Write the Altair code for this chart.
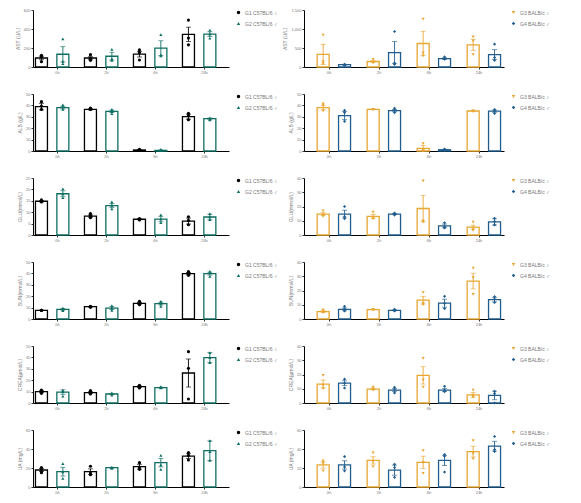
import altair as alt
import pandas as pd

TIMES = ["0h", "2h", "6h", "24h"]
LEFT_GROUPS = ["G1 C57BL/6 ♀", "G2 C57BL/6 ♂"]
RIGHT_GROUPS = ["G3 BALB/c ♀", "G4 BALB/c ♂"]
LEFT_COLORS = ["#000000", "#0f6e62"]
RIGHT_COLORS = ["#e8a633", "#215d8d"]
LEFT_SHAPES = ["circle", "triangle-up"]
RIGHT_SHAPES = ["triangle-down", "diamond"]

TITLES = ["AST (U/L)", "ALB (g/L)", "GLU(mmol/L)", "BUN(mmol/L)", "CREA(μmol/L)", "UA (mg/L)"]
LEFT_TICKS = [[0, 200, 400, 600], [0, 10, 20, 30, 40, 50], [0, 5, 10, 15, 20, 25],
              [0, 10, 20, 30, 40, 50], [0, 10, 20, 30, 40, 50], [0, 20, 40, 60]]
RIGHT_TICKS = [[0, 500, 1000, 1500], [0, 10, 20, 30, 40, 50], [0, 10, 20, 30, 40],
               [0, 10, 20, 30, 40], [0, 10, 20, 30, 40], [0, 20, 40, 60]]

# ---- AST ----
AST_L_MEAN = [[95, 95, 135, 344], [134, 113, 198, 346]]
AST_L_SEM = [[18, 14, 30, 75], [80, 42, 78, 25]]
AST_L_PTS = [[[123, 106, 56], [130, 90, 70], [180, 152, 74], [494, 304, 233]],
             [[296, 60, 35], [185, 85, 70], [342, 127, 116], [388, 346, 304]]]
AST_R_MEAN = [[330, 145, 618, 580], [62, 379, 221, 326]]
AST_R_SEM = [[265, 20, 320, 150], [8, 290, 20, 130]]
AST_R_PTS = [[[838, 141, 90], [200, 130, 110], [1262, 370, 291], [794, 688, 326]],
             [[70, 53, 44], [935, 106, 70], [265, 221, 203], [600, 247, 176]]]
# ---- ALB ----
ALB_L_MEAN = [[38.9, 36.5, 0.9, 30.1], [38.0, 34.8, 0.6, 28.4]]
ALB_L_SEM = [[2.9, 0.5, 0.3, 2.2], [1.2, 1.1, 0.3, 0.5]]
ALB_L_PTS = [[[43.3, 39.5, 36.5], [37.7, 37.1, 36.5], [1.5, 0.9, 0.6], [33.0, 31.0, 27.5]],
             [[40.4, 38.6, 36.5], [36.5, 34.5, 32.7], [1.5, 0.6, 0.3], [29.0, 27.8, 27.2]]]
ALB_R_MEAN = [[38.0, 36.6, 2.3, 35.1], [31.1, 35.4, 1.1, 34.9]]
ALB_R_SEM = [[1.9, 0.2, 2.5, 0.2], [3.6, 1.0, 0.3, 1.0]]
ALB_R_PTS = [[[41.4, 40.3, 35.1], [36.6, 36.6, 36.3], [6.5, 0.3, 0.1], [35.1, 34.9, 34.6]],
             [[35.7, 33.7, 26.0], [37.4, 35.7, 33.7], [1.7, 1.1, 0.6], [36.3, 35.1, 32.9]]]
# ---- GLU ----
GLU_L_MEAN = [[14.8, 8.3, 6.9, 6.1], [18.1, 12.9, 7.0, 7.9]]
GLU_L_SEM = [[0.3, 0.5, 0.2, 1.3], [1.3, 0.9, 1.2, 1.2]]
GLU_L_PTS = [[[15.4, 14.8, 14.5], [9.4, 8.5, 7.6], [7.2, 6.9, 6.6], [8.0, 6.4, 4.5]],
             [[20.2, 18.0, 16.4], [14.5, 13.0, 11.5], [8.8, 7.0, 5.4], [9.4, 7.9, 6.7]]]
GLU_R_MEAN = [[14.7, 13.1, 18.6, 5.5], [14.7, 14.7, 6.4, 9.2]]
GLU_R_SEM = [[1.0, 1.4, 9.2, 1.4], [2.7, 0.4, 1.3, 2.2]]
GLU_R_PTS = [[[17.0, 14.0, 13.0], [16.0, 12.0, 11.3], [37.9, 9.9, 9.0], [9.0, 4.6, 3.2]],
             [[20.0, 12.9, 11.5], [15.4, 14.7, 14.0], [8.6, 5.7, 5.0], [11.7, 9.4, 7.1]]]
# ---- BUN ----
BUN_L_MEAN = [[7.6, 10.8, 13.7, 39.8], [8.5, 9.6, 13.5, 39.8]]
BUN_L_SEM = [[0.2, 0.3, 0.8, 1.0], [0.6, 1.2, 1.3, 1.3]]
BUN_L_PTS = [[[7.5, 7.6, 7.7], [11.1, 10.8, 10.2], [15.5, 13.7, 12.6], [41.5, 39.8, 38.3]],
             [[9.6, 8.5, 7.3], [11.7, 9.6, 7.6], [15.5, 13.7, 11.1], [41.8, 40.4, 37.4]]]
BUN_R_MEAN = [[5.2, 6.6, 13.2, 26.6], [6.8, 6.1, 11.1, 13.6]]
BUN_R_SEM = [[0.6, 0.1, 2.7, 5.5], [1.0, 0.3, 2.8, 1.6]]
BUN_R_PTS = [[[6.4, 5.2, 4.5], [6.5, 6.6, 6.7], [18.6, 11.0, 10.0], [35.7, 29.1, 17.3]],
             [[8.9, 7.0, 5.7], [6.8, 6.1, 5.7], [15.9, 10.9, 7.3], [15.7, 13.9, 11.6]]]
# ---- CREA ----
CREA_L_MEAN = [[10.0, 9.1, 14.3, 26.3], [9.6, 7.9, 13.5, 39.8]]
CREA_L_SEM = [[0.9, 0.9, 0.7, 12.3], [2.0, 0.5, 0.3, 4.4]]
CREA_L_PTS = [[[11.4, 9.9, 8.5], [10.8, 9.1, 7.9], [15.5, 14.3, 13.2], [45.0, 30.4, 3.5]],
              [[11.1, 9.9, 6.1], [8.8, 7.9, 7.0], [14.3, 13.5, 13.2], [44.2, 39.8, 35.4]]]
CREA_R_MEAN = [[13.3, 9.8, 19.4, 5.7], [13.9, 9.1, 9.1, 5.3]]
CREA_R_SEM = [[2.8, 0.6, 6.1, 1.7], [1.7, 1.1, 1.1, 3.0]]
CREA_R_PTS = [[[19.4, 12.3, 10.1], [11.2, 9.8, 9.1], [31.3, 16.2, 11.2], [9.1, 5.0, 4.1]],
              [[16.7, 13.9, 10.5], [11.0, 9.1, 7.1], [11.7, 8.9, 8.0], [8.2, 6.6, 0.0]]]
# ---- UA ----
UA_L_MEAN = [[17.9, 16.1, 21.4, 32.6], [16.1, 20.4, 25.6, 38.2]]
UA_L_SEM = [[1.6, 3.0, 2.5, 2.5], [4.6, 0.3, 4.4, 10.3]]
UA_L_PTS = [[[20.4, 17.5, 15.1], [21.8, 14.7, 13.0], [25.6, 21.0, 18.6], [36.1, 33.3, 28.4]],
            [[24.6, 15.8, 9.1], [20.7, 20.4, 19.6], [33.3, 23.2, 18.6], [48.8, 37.2, 28.1]]]
UA_R_MEAN = [[23.2, 28.0, 25.9, 37.2], [23.2, 17.7, 28.0, 43.0]]
UA_R_SEM = [[3.4, 3.8, 6.5, 5.7], [4.4, 5.3, 5.3, 5.1]]
UA_R_PTS = [[[27.6, 24.9, 17.0], [35.8, 26.6, 21.5], [38.2, 25.9, 14.3], [48.8, 35.1, 29.7]],
            [[32.0, 21.1, 17.0], [23.9, 20.5, 10.2], [34.1, 32.4, 15.7], [53.2, 39.5, 37.5]]]

PANELS = [
    (AST_L_MEAN, AST_L_SEM, AST_L_PTS, AST_R_MEAN, AST_R_SEM, AST_R_PTS),
    (ALB_L_MEAN, ALB_L_SEM, ALB_L_PTS, ALB_R_MEAN, ALB_R_SEM, ALB_R_PTS),
    (GLU_L_MEAN, GLU_L_SEM, GLU_L_PTS, GLU_R_MEAN, GLU_R_SEM, GLU_R_PTS),
    (BUN_L_MEAN, BUN_L_SEM, BUN_L_PTS, BUN_R_MEAN, BUN_R_SEM, BUN_R_PTS),
    (CREA_L_MEAN, CREA_L_SEM, CREA_L_PTS, CREA_R_MEAN, CREA_R_SEM, CREA_R_PTS),
    (UA_L_MEAN, UA_L_SEM, UA_L_PTS, UA_R_MEAN, UA_R_SEM, UA_R_PTS),
]


def panel(title, groups, colors, shapes, means, sems, pts, ticks, width):
    bar_rows, pt_rows = [], []
    for gi, g in enumerate(groups):
        for ti, t in enumerate(TIMES):
            m, s = means[gi][ti], sems[gi][ti]
            bar_rows.append(dict(time=t, group=g, mean=m, lo=max(m - s, 0), hi=m + s))
            for v in pts[gi][ti]:
                pt_rows.append(dict(time=t, group=g, value=v))
    bdf = pd.DataFrame(bar_rows)
    pdf = pd.DataFrame(pt_rows)

    X = alt.X("time:N", sort=TIMES, scale=alt.Scale(paddingInner=0, paddingOuter=0),
              axis=alt.Axis(title=None, labelAngle=0))
    XO = alt.XOffset("group:N", sort=groups, scale=alt.Scale(paddingInner=0, paddingOuter=0.29))
    ys = alt.Scale(domain=[0, ticks[-1]], nice=False, zero=True)
    yax = alt.Axis(title=title, values=ticks)
    cscale = alt.Scale(domain=groups, range=colors)
    leg = alt.Legend(title=None, orient="right", offset=7, padding=0, labelFontSize=5,
                     labelColor="#777777", symbolSize=12, rowPadding=5, symbolStrokeWidth=0,
                     labelLimit=100)

    bars = alt.Chart(bdf).mark_bar(fill="white", strokeWidth=1.3, size=12).encode(
        x=X, xOffset=XO, y=alt.Y("mean:Q", scale=ys, axis=yax),
        stroke=alt.Stroke("group:N", scale=cscale, legend=leg))
    rule = alt.Chart(bdf).mark_rule(strokeWidth=0.9).encode(
        x=X, xOffset=XO, y=alt.Y("lo:Q", scale=ys, axis=yax), y2="hi:Q",
        stroke=alt.Stroke("group:N", scale=cscale, legend=leg))
    cap_hi = alt.Chart(bdf).mark_tick(size=5, thickness=0.9).encode(
        x=X, xOffset=XO, y=alt.Y("hi:Q", scale=ys, axis=yax),
        fill=alt.Fill("group:N", scale=cscale, legend=leg))
    cap_lo = alt.Chart(bdf).mark_tick(size=5, thickness=0.9).encode(
        x=X, xOffset=XO, y=alt.Y("lo:Q", scale=ys, axis=yax),
        fill=alt.Fill("group:N", scale=cscale, legend=leg))
    points = alt.Chart(pdf).mark_point(filled=True, size=10, opacity=1).encode(
        x=X, xOffset=XO, y=alt.Y("value:Q", scale=ys, axis=yax),
        color=alt.Color("group:N", scale=cscale, legend=leg),
        shape=alt.Shape("group:N", scale=alt.Scale(domain=groups, range=shapes), legend=leg))
    return alt.layer(bars, rule, cap_hi, cap_lo, points).properties(width=width, height=57)


charts = []
for i, (lm, ls, lp, rm, rs, rp) in enumerate(PANELS):
    charts.append(panel(TITLES[i], LEFT_GROUPS, LEFT_COLORS, LEFT_SHAPES, lm, ls, lp, LEFT_TICKS[i], 196))
    charts.append(panel(TITLES[i], RIGHT_GROUPS, RIGHT_COLORS, RIGHT_SHAPES, rm, rs, rp, RIGHT_TICKS[i], 200))

chart = alt.concat(*charts, columns=2, spacing={"row": 27, "column": 75},
                   bounds="flush", align="each").resolve_scale(
    x="independent", y="independent", color="independent", shape="independent",
    stroke="independent", fill="independent").resolve_legend(
    color="independent", shape="independent", stroke="independent", fill="independent").properties(
    padding={"left": 7, "top": 0, "right": 0, "bottom": 0}
).configure_view(stroke=None).configure_axis(
    domainColor="#000000", domainWidth=1, tickColor="#000000", tickSize=2, tickWidth=0.8,
    labelFontSize=4, labelColor="#777777", titleFontSize=5, titleColor="#777777",
    titleFontWeight="normal", grid=False, labelPadding=1, titlePadding=3,
    labelFont="Liberation Sans", titleFont="Liberation Sans"
).configure_legend(labelFont="Liberation Sans")

chart.save("out.html", embed_options={"renderer": "svg", "actions": False})
